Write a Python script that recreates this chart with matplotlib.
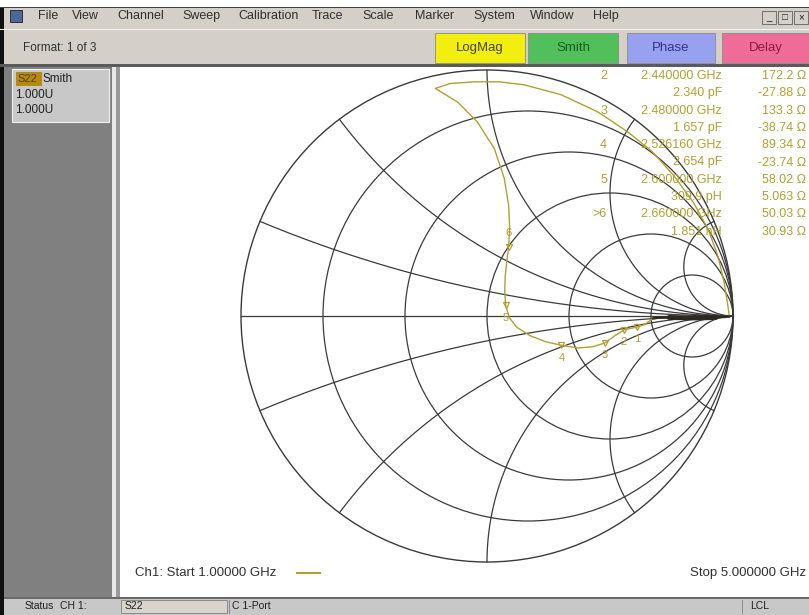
import numpy as np
import matplotlib
matplotlib.use("Agg")
import matplotlib.pyplot as plt
from matplotlib.patches import Rectangle, Circle

plt.rcParams['font.family'] = ['Liberation Sans', 'DejaVu Sans']

W, H = 809, 615

# smith chart placement in screen pixels
CX, CY, RAD = 487, 316, 246
PLOT_L, PLOT_T, PLOT_R, PLOT_B = 120, 67, 809, 597

menu_items = ["File", "View", "Channel", "Sweep", "Calibration", "Trace",
              "Scale", "Marker", "System", "Window", "Help"]
menu_x = [38, 72, 117, 182, 238, 312, 362, 415, 473, 530, 593]

buttons = ["LogMag", "Smith", "Phase", "Delay"]
button_x = [(435, 525), (528, 618), (627, 715), (722, 809)]
button_face = ["#f2ee10", "#52c05a", "#98a0f0", "#f06c98"]
button_text = ["#4a4400", "#1d5a22", "#34348a", "#8a1c40"]

# grid of the smith chart
r_circles = [0.2, 0.5, 1, 2, 5]
x_arcs = [0.2, 0.5, 1, 2, 5]

# S22 trace, reflection coefficient
tongue_re = [0.985, 0.96, 0.93, 0.90, 0.86, 0.82, 0.78, 0.74, 0.70, 0.675]
tongue_im = [-0.002, -0.004, -0.006, -0.007, -0.008, -0.008, -0.007, -0.006, -0.006, -0.01]

trace_re = [0.675, 0.64, 0.61, 0.557, 0.52, 0.478, 0.43, 0.37, 0.303, 0.24,
            0.175, 0.12, 0.09, 0.076, 0.072, 0.074, 0.08, 0.088, 0.092, 0.088,
            0.07, 0.03, -0.04, -0.12, -0.21, -0.15, -0.05, 0.05, 0.15, 0.30,
            0.45, 0.57, 0.67, 0.76, 0.84, 0.90, 0.94, 0.965, 0.978, 0.985]
trace_im = [-0.01, -0.035, -0.045, -0.056, -0.08, -0.11, -0.125, -0.13, -0.119, -0.105,
            -0.08, -0.045, -0.005, 0.043, 0.10, 0.16, 0.22, 0.282, 0.36, 0.45,
            0.56, 0.68, 0.79, 0.87, 0.925, 0.945, 0.952, 0.952, 0.94, 0.90,
            0.83, 0.75, 0.67, 0.57, 0.46, 0.35, 0.24, 0.13, 0.05, 0.0]

# markers (ohms), marker 1 is not in the readout list
marker_ids = ["1", "2", "3", "4", "5", "6"]
marker_r = [203.0, 172.2, 133.3, 89.34, 58.02, 50.03]
marker_x = [-29.2, -27.88, -38.74, -23.74, 5.063, 30.93]

readout_num = ["2", "", "3", "", "4", "", "5", "", ">6", ""]
readout_mid = ["2.440000 GHz", "2.340 pF", "2.480000 GHz", "1.657 pF", "2.526160 GHz",
               "2.654 pF", "2.600000 GHz", "309.9 pH", "2.660000 GHz", "1.851 nH"]
readout_val = ["172.2 \u03a9", "-27.88 \u03a9", "133.3 \u03a9", "-38.74 \u03a9", "89.34 \u03a9",
               "-23.74 \u03a9", "58.02 \u03a9", "5.063 \u03a9", "50.03 \u03a9", "30.93 \u03a9"]

Z0 = 50.0
TRACE = "#b0a032"
GRID = "#3a3a3a"


def gamma(z):
    return (z - 1) / (z + 1)


fig = plt.figure(figsize=(W / 100, H / 100), dpi=100)
fig.patch.set_facecolor("#d4d0c8")

ui = fig.add_axes([0, 0, 1, 1], zorder=2)
ui.set_xlim(0, W)
ui.set_ylim(H, 0)
ui.axis("off")
ui.patch.set_alpha(0)


def box(x0, y0, x1, y1, color, **kw):
    ui.add_patch(Rectangle((x0, y0), x1 - x0, y1 - y0, facecolor=color,
                           edgecolor=kw.pop("ec", "none"), **kw))


# window frame, menu and toolbar
box(0, 0, W, 7, "white")
box(0, 7, W, 8, "#404040")
box(0, 8, 4, H, "#101010")
box(10, 10, 22, 22, "#4a6898", ec="#202020", lw=0.6)
for name, x in zip(menu_items, menu_x):
    ui.text(x, 16, name, fontsize=9, color="#303030", va="center", ha="left")
for i, s in enumerate(["_", "\u25a1", "\u00d7"]):
    box(762 + i * 16, 11, 776 + i * 16, 24, "#d4d0c8", ec="#606060", lw=0.6)
    ui.text(769 + i * 16, 17.5, s, fontsize=7, ha="center", va="center", color="#202020")
box(0, 29, W, 30, "#f4f4f4")
ui.text(23, 48, "Format: 1 of 3", fontsize=8.5, color="#303030", va="center")
for lab, (x0, x1), fc, tc in zip(buttons, button_x, button_face, button_text):
    box(x0, 33, x1, 63, fc, ec="#8a8a8a", lw=0.6)
    ui.text((x0 + x1) / 2, 48, lab, fontsize=9.5, color=tc, ha="center", va="center")
box(0, 64, W, 67, "#5a5a5a")

# left channel panel
box(4, 67, 112, PLOT_B, "#808080")
box(12, 69, 109, 122, "#c8c8c8", ec="#f0f0f0", lw=0.8)
box(16, 72, 42, 86, "#b58a12")
ui.text(17, 79, "S22", fontsize=8, color="#5a3c00", va="center")
ui.text(43, 79, "Smith", fontsize=8.5, color="#202020", va="center")
ui.text(15, 95, "1.000U", fontsize=8.5, color="#202020", va="center")
ui.text(15, 110, "1.000U", fontsize=8.5, color="#202020", va="center")
box(112, 67, 116, PLOT_B, "#e8e8e8")
box(116, 67, PLOT_L, PLOT_B, "#9a9a9a")

# status bar
box(4, PLOT_B, W, PLOT_B + 2, "#6a6a6a")
box(4, PLOT_B + 2, W, H, "#c8c8c8")
ui.text(25, 606, "Status", fontsize=7.5, color="#202020", va="center")
ui.text(60, 606, "CH 1:", fontsize=7.5, color="#202020", va="center")
box(121, 600, 227, 613, "#d8d4cc", ec="#808080", lw=0.6)
ui.text(125, 606, "S22", fontsize=7.5, color="#202020", va="center")
ui.plot([229, 229], [600, 613], color="#808080", lw=0.6)
ui.text(232, 606, "C 1-Port", fontsize=7.5, color="#202020", va="center")
ui.plot([742, 742], [600, 613], color="#808080", lw=0.6)
ui.text(750, 606, "LCL", fontsize=7.5, color="#202020", va="center")

# smith chart area
ax = fig.add_axes([PLOT_L / W, 1 - PLOT_B / H, (PLOT_R - PLOT_L) / W, (PLOT_B - PLOT_T) / H],
                  zorder=1)
ax.set_facecolor("white")
ax.set_xlim((PLOT_L - CX) / RAD, (PLOT_R - CX) / RAD)
ax.set_ylim((CY - PLOT_B) / RAD, (CY - PLOT_T) / RAD)
ax.set_xticks([])
ax.set_yticks([])
for sp in ax.spines.values():
    sp.set_visible(False)

ax.add_patch(Circle((0, 0), 1, fill=False, ec=GRID, lw=1.0))
for r in r_circles:
    ax.add_patch(Circle((r / (1 + r), 0), 1 / (1 + r), fill=False, ec=GRID, lw=0.9))
rr = np.concatenate([[0], np.logspace(-3, 4, 600)])
for xv in x_arcs:
    for s in (1, -1):
        g = gamma(rr + 1j * s * xv)
        ax.plot(g.real, g.imag, color=GRID, lw=0.9)
ax.plot([-1, 1], [0, 0], color=GRID, lw=0.9)

# trace
ax.plot(tongue_re, tongue_im, color="#2c2a1e", lw=1.8, solid_capstyle="round", zorder=4)
ax.plot(tongue_re[2:8], tongue_im[2:8], color="#2c2a1e", lw=3.5, solid_capstyle="round", zorder=4)
ax.plot(trace_re, trace_im, color=TRACE, lw=1.0, zorder=3)

for mid, r, x in zip(marker_ids, marker_r, marker_x):
    g = gamma(complex(r, x) / Z0)
    ax.plot(g.real, g.imag, marker="v", ms=5, mfc="none", mec=TRACE, mew=0.9, zorder=5)
    dy = 0.055 if mid == "6" else -0.05
    ax.text(g.real, g.imag + dy, mid, fontsize=8, color=TRACE, ha="center", va="center", zorder=5)

# marker readout
for i, (a, b, c) in enumerate(zip(readout_num, readout_mid, readout_val)):
    y = 76 + 17.3 * i
    ui.text(607, y, a, fontsize=9, color=TRACE, ha="right", va="center")
    ui.text(722, y, b, fontsize=9, color=TRACE, ha="right", va="center")
    ui.text(806, y, c, fontsize=9, color=TRACE, ha="right", va="center")

ui.text(135, 573, "Ch1: Start 1.00000 GHz", fontsize=9.5, color="#303030", va="center")
ui.plot([297, 320], [573, 573], color=TRACE, lw=1.5)
ui.text(806, 573, "Stop 5.000000 GHz", fontsize=9.5, color="#303030", va="center", ha="right")

fig.savefig("out.png", dpi=100, facecolor=fig.get_facecolor())
